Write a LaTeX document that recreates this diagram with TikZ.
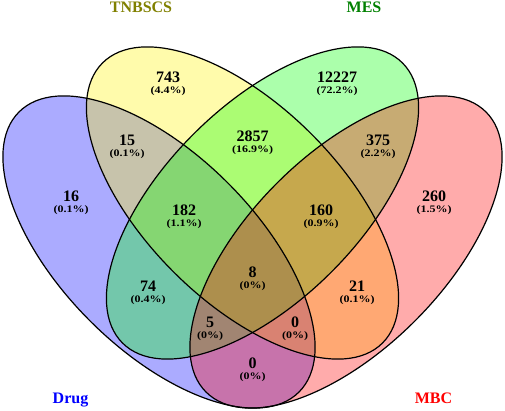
\documentclass[tikz,border=0pt]{standalone}
\usepackage{fontspec}
\setmainfont{Liberation Serif}
\newfontfamily\pctfont[FakeStretch=1.2]{Liberation Serif}
\definecolor{tnbcol}{RGB}{128,128,0}
\definecolor{mescol}{RGB}{0,128,0}
\begin{document}
\begin{tikzpicture}[x=1pt,y=1pt,line cap=round,line join=round,
  num/.style={inner sep=0pt,font=\fontsize{16}{18}\selectfont\bfseries},
  pct/.style={inner sep=0pt,font=\pctfont\fontsize{10}{12}\selectfont\bfseries},
  setname/.style={inner sep=0pt,anchor=base,font=\fontsize{16}{18}\selectfont\bfseries}]
  \useasboundingbox (0,0) rectangle (505,411);
  % 四个椭圆：先半透明填色
  \foreach \cx/\cy/\ang/\col in {159/159/-45/blue, 242.5/208/-45/yellow, 262.5/208/45/green, 346/159/45/red} {
    \fill[\col,fill opacity=0.33,shift={(\cx,\cy)},rotate=\ang] (0,0) ellipse [x radius=198pt,y radius=97.5pt];
  }
  % 再描边
  \foreach \cx/\cy/\ang in {159/159/-45, 242.5/208/-45, 262.5/208/45, 346/159/45} {
    \draw[line width=1.2pt,shift={(\cx,\cy)},rotate=\ang] (0,0) ellipse [x radius=198pt,y radius=97.5pt];
  }
  % 各区域计数与百分比
  \foreach \nm/\x/\y/\n/\p in {a/168/333/743/4.4, b/337/333/12227/72.2, c/127/270/15/0.1,
      d/252.5/274/2857/16.9, e/378/270/375/2.2, f/71/214/16/0.1, g/184/200/182/1.1,
      h/321/200/160/0.9, i/434/214/260/1.5, j/252.5/138/8/0, k/148/124/74/0.4,
      l/357/124/21/0.1, m/210/88/5/0, n/295/88/0/0, o/252.5/47/0/0} {
    \node[num] (n\nm) at (\x,\y+0.7) {\n};
    \node[pct] (p\nm) at (\x,\y-13.3) {(\p\%)};
  }
  % 集合名称
  \node[setname,text=tnbcol] (tnbscs) at (141,398) {TNBSCS};
  \node[setname,text=mescol] (mes) at (364,398) {MES};
  \node[setname,text=blue] (drug) at (70.5,7) {Drug};
  \node[setname,text=red] (mbc) at (433.5,7) {MBC};
\end{tikzpicture}
\end{document}
